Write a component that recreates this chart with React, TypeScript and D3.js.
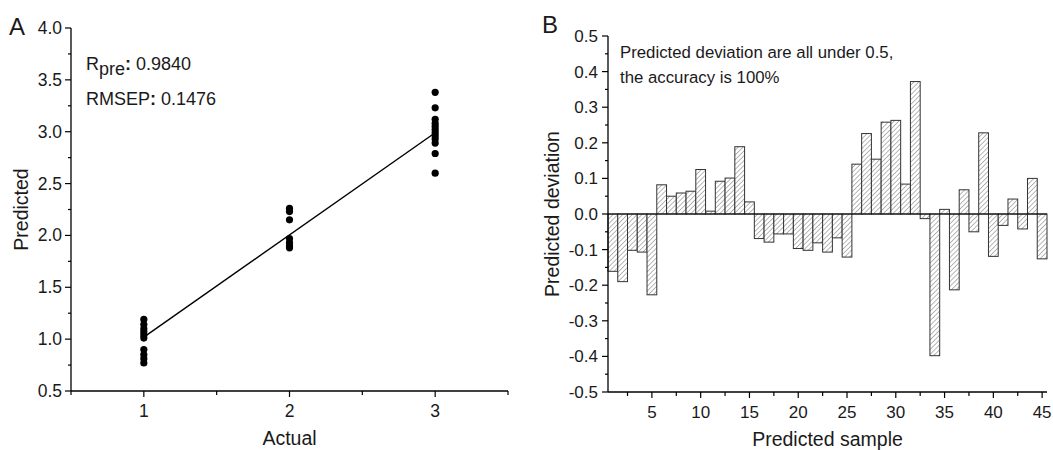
import React from "react";
import * as d3 from "d3";

// ---- Panel A data ----
const actual1 = [1.19, 1.14, 1.10, 1.07, 1.04, 1.01, 0.90, 0.85, 0.81, 0.77];
const actual2 = [2.26, 2.23, 2.15, 1.97, 1.93, 1.90, 1.88];
const actual3 = [3.38, 3.23, 3.12, 3.08, 3.05, 3.02, 2.99, 2.96, 2.93, 2.89, 2.79, 2.60];
const fitLine = [
  { x: 1, y: 1.02 },
  { x: 3, y: 2.99 },
];
const aYTicks = [0.5, 1.0, 1.5, 2.0, 2.5, 3.0, 3.5, 4.0];
const aXTicks = [1, 2, 3];

// ---- Panel B data ----
const deviations = [
  -0.161, -0.19, -0.102, -0.107, -0.227, 0.082, 0.05, 0.059, 0.064, 0.125,
  0.008, 0.092, 0.101, 0.189, 0.034, -0.069, -0.079, -0.056, -0.056, -0.097,
  -0.102, -0.081, -0.107, -0.067, -0.121, 0.14, 0.226, 0.154, 0.258, 0.263,
  0.084, 0.372, -0.013, -0.398, 0.013, -0.213, 0.068, -0.05, 0.228, -0.119,
  -0.032, 0.042, -0.042, 0.1, -0.126,
];
const bYTicks = [-0.5, -0.4, -0.3, -0.2, -0.1, 0.0, 0.1, 0.2, 0.3, 0.4, 0.5];
const bXTicks = [5, 10, 15, 20, 25, 30, 35, 40, 45];

const FONT = "'Liberation Sans', Arial, sans-serif";
const INK = "#1a1a1a";

export default function App() {
  // Panel A scales
  const ax = d3.scaleLinear().domain([0.5, 3.5]).range([71, 508]);
  const ay = d3.scaleLinear().domain([0.5, 4.0]).range([391, 28]);
  // Panel B scales
  const bx = d3.scaleLinear().domain([0.5, 45.5]).range([608, 1047]);
  const by = d3.scaleLinear().domain([-0.5, 0.5]).range([392, 36]);

  const points = [
    ...actual1.map((v) => ({ x: 1, y: v })),
    ...actual2.map((v) => ({ x: 2, y: v })),
    ...actual3.map((v) => ({ x: 3, y: v })),
  ];
  const line = d3
    .line<{ x: number; y: number }>()
    .x((d) => ax(d.x))
    .y((d) => ay(d.y));

  const aYMinor = d3.range(0.75, 4.0, 0.5);
  const aXMinor = [1.5, 2.5, 3.5];
  const bYMinor = d3.range(-0.45, 0.5, 0.1);
  const bXMinor = d3.range(2.5, 46, 5);

  const tickA = 17.5;
  const tickB = 17;
  const titleF = 19.5;

  return (
    <svg
      width={1053}
      height={450}
      style={{ position: "absolute", left: 0, top: 0, background: "#fff" }}
      fontFamily={FONT}
    >
      <defs>
        <pattern
          id="hatch"
          patternUnits="userSpaceOnUse"
          width={3.4}
          height={3.4}
          patternTransform="rotate(45)"
        >
          <rect width={3.4} height={3.4} fill="#fff" />
          <line x1={0} y1={0} x2={0} y2={3.4} stroke="#555" strokeWidth={0.85} />
        </pattern>
      </defs>

      {/* ---------- Panel A ---------- */}
      <text x={9} y={35} fontSize={24} fill={INK}>A</text>
      {/* axes */}
      <line x1={71} y1={ay(4.0)} x2={71} y2={391} stroke="#000" strokeWidth={1.3} />
      <line x1={71} y1={391} x2={508} y2={391} stroke="#000" strokeWidth={1.3} />
      {aYTicks.map((t) => (
        <g key={"ay" + t}>
          <line x1={65} x2={71} y1={ay(t)} y2={ay(t)} stroke="#000" strokeWidth={1.2} />
          <text x={62} y={ay(t) + 6} fontSize={tickA} textAnchor="end" fill={INK}>
            {t.toFixed(1)}
          </text>
        </g>
      ))}
      {aYMinor.map((t) => (
        <line key={"aym" + t} x1={68} x2={71} y1={ay(t)} y2={ay(t)} stroke="#000" strokeWidth={1.2} />
      ))}
      {aXTicks.map((t) => (
        <g key={"ax" + t}>
          <line x1={ax(t)} x2={ax(t)} y1={391} y2={397} stroke="#000" strokeWidth={1.2} />
          <text x={ax(t)} y={417} fontSize={tickA} textAnchor="middle" fill={INK}>
            {t}
          </text>
        </g>
      ))}
      {aXMinor.map((t) => (
        <line key={"axm" + t} x1={ax(t)} x2={ax(t)} y1={391} y2={395} stroke="#000" strokeWidth={1.2} />
      ))}
      <line x1={71} x2={71} y1={391} y2={395} stroke="#000" strokeWidth={1.2} />
      <text
        transform={`translate(28, ${ay(2.25)}) rotate(-90)`}
        fontSize={titleF}
        textAnchor="middle"
        fill={INK}
      >
        Predicted
      </text>
      <text x={ax(2)} y={445} fontSize={titleF} textAnchor="middle" fill={INK}>
        Actual
      </text>
      {/* annotation */}
      <text x={86} y={70} fontSize={18} fill={INK}>
        R<tspan dy={5}>pre</tspan>
        <tspan dy={-5} fontWeight="bold">:</tspan>
        <tspan> 0.9840</tspan>
      </text>
      <text x={86} y={105} fontSize={18} fill={INK}>
        RMSEP<tspan fontWeight="bold">:</tspan> 0.1476
      </text>
      {/* fit line */}
      <path d={line(fitLine) || ""} fill="none" stroke="#000" strokeWidth={1.4} />
      {points.map((p, i) => (
        <circle key={"p" + i} cx={ax(p.x)} cy={ay(p.y)} r={3.6} fill="#000" />
      ))}

      {/* ---------- Panel B ---------- */}
      <text x={542} y={33} fontSize={24} fill={INK}>B</text>
      {deviations.map((v, i) => {
        const n = i + 1;
        const x0 = bx(n - 0.5);
        const x1 = bx(n + 0.5);
        const y0 = by(Math.max(0, v));
        const y1 = by(Math.min(0, v));
        return (
          <rect
            key={"b" + n}
            x={x0}
            y={y0}
            width={x1 - x0}
            height={Math.max(0.5, y1 - y0)}
            fill="url(#hatch)"
            stroke="#333"
            strokeWidth={1}
          />
        );
      })}
      {/* zero line */}
      <line x1={608} x2={1047} y1={by(0)} y2={by(0)} stroke="#000" strokeWidth={1.2} />
      {/* axes */}
      <line x1={608} y1={by(0.5)} x2={608} y2={392} stroke="#000" strokeWidth={1.3} />
      <line x1={608} y1={392} x2={1047} y2={392} stroke="#000" strokeWidth={1.3} />
      {bYTicks.map((t) => (
        <g key={"by" + t}>
          <line x1={602} x2={608} y1={by(t)} y2={by(t)} stroke="#000" strokeWidth={1.2} />
          <text x={598} y={by(t) + 6} fontSize={tickB} textAnchor="end" fill={INK}>
            {(Math.abs(t) < 1e-9 ? 0 : t).toFixed(1)}
          </text>
        </g>
      ))}
      {bYMinor.map((t) => (
        <line key={"bym" + t} x1={605} x2={608} y1={by(t)} y2={by(t)} stroke="#000" strokeWidth={1.2} />
      ))}
      {bXTicks.map((t) => (
        <g key={"bx" + t}>
          <line x1={bx(t)} x2={bx(t)} y1={392} y2={398} stroke="#000" strokeWidth={1.2} />
          <text x={bx(t)} y={418} fontSize={tickB} textAnchor="middle" fill={INK}>
            {t}
          </text>
        </g>
      ))}
      {bXMinor.map((t) => (
        <line key={"bxm" + t} x1={bx(t)} x2={bx(t)} y1={392} y2={396} stroke="#000" strokeWidth={1.2} />
      ))}
      <text
        transform={`translate(559, ${by(0)}) rotate(-90)`}
        fontSize={titleF}
        textAnchor="middle"
        fill={INK}
      >
        Predicted deviation
      </text>
      <text x={bx(23)} y={446} fontSize={titleF} textAnchor="middle" fill={INK}>
        Predicted sample
      </text>
      <text x={620} y={58} fontSize={16.8} fill={INK}>
        Predicted deviation are all under 0.5,
      </text>
      <text x={620} y={83} fontSize={16.8} fill={INK}>
        the accuracy is 100%
      </text>
    </svg>
  );
}
